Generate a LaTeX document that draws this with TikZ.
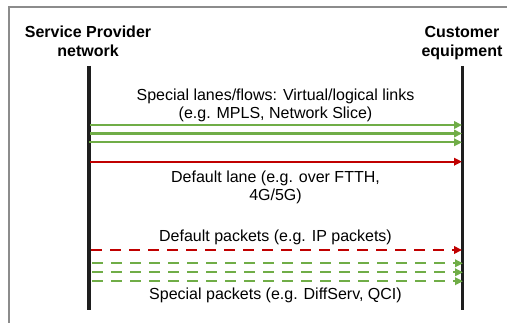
\documentclass[tikz,border=0pt]{standalone}
\usepackage{fontspec}
\setmainfont{Liberation Sans}
\usetikzlibrary{arrows.meta}
\definecolor{lanegreen}{HTML}{70AD47}
\definecolor{lanered}{HTML}{C00000}
\definecolor{framegray}{HTML}{8C8C8C}
\definecolor{postcol}{HTML}{1E1E1E}
\begin{document}
\begin{tikzpicture}[x=1pt,y=-1pt,
  hdr/.style={font=\fontsize{16}{19}\selectfont\bfseries, anchor=base, inner sep=0pt},
  lbl/.style={font=\fontsize{16}{19}\selectfont, anchor=base, inner sep=0pt},
  post/.style={draw=postcol, line width=3.5pt},
  flow/.style={line width=2.2pt, -{Triangle[length=8pt,width=7.5pt]}},
  pkt/.style={flow, dash pattern=on 11pt off 8pt},
  framestyle/.style={draw=framegray, line width=1.8pt}
]
\useasboundingbox (0,0) rectangle (507,323);
% frame (partly visible)
\coordinate (fBL) at (9,330);
\coordinate (fTL) at (9,7);
\coordinate (fTR) at (515,7);
\draw[framestyle] (fBL) -- (fTL) -- (fTR);

% headers
\node[hdr] (spn1) at (88,38) {Service Provider};
\node[hdr] (spn2) at (88,57) {network};
\node[hdr] (ce1) at (462,38) {Customer};
\node[hdr] (ce2) at (462,57) {equipment};

% posts
\coordinate (lTop) at (89,66);
\coordinate (lBot) at (89,310);
\coordinate (rTop) at (462.5,66);
\coordinate (rBot) at (462.5,310);
\draw[post] (lTop) -- (lBot);
\draw[post] (rTop) -- (rBot);

% labels
\node[lbl] (t1) at (275.5,101) {Special lanes/flows: Virtual/logical links};
\node[lbl] (t2) at (275.5,119) {(e.g. MPLS, Network Slice)};
\node[lbl] (t3) at (275.5,183) {Default lane (e.g. over FTTH,};
\node[lbl] (t4) at (275.5,201) {4G/5G)};
\node[lbl] (t5) at (275.5,242) {Default packets (e.g. IP packets)};
\node[lbl] (t6) at (275.5,300) {Special packets (e.g. DiffServ, QCI)};

% solid lanes
\coordinate (g1a) at (90,125);   \coordinate (g1b) at (462,125);
\coordinate (g2a) at (90,133.5); \coordinate (g2b) at (462,133.5);
\coordinate (g3a) at (89,142.3); \coordinate (g3b) at (462,142.3);
\coordinate (r1a) at (90,161.7); \coordinate (r1b) at (462,161.7);
\draw[flow, lanegreen] (g1a) -- (g1b);
\draw[flow, lanegreen] (g2a) -- (g2b);
\draw[flow, lanegreen] (g3a) -- (g3b);
\draw[flow, lanered] (r1a) -- (r1b);

% packets
\coordinate (r2a) at (91,250);   \coordinate (r2b) at (462,250);
\coordinate (p1a) at (92,263.3); \coordinate (p1b) at (463,263.3);
\coordinate (p2a) at (92,272.3); \coordinate (p2b) at (463,272.3);
\coordinate (p3a) at (92,281.2); \coordinate (p3b) at (463,281.2);
\draw[pkt, lanered] (r2a) -- (r2b);
\draw[pkt, lanegreen] (p1a) -- (p1b);
\draw[pkt, lanegreen] (p2a) -- (p2b);
\draw[pkt, lanegreen] (p3a) -- (p3b);
\end{tikzpicture}
\end{document}
